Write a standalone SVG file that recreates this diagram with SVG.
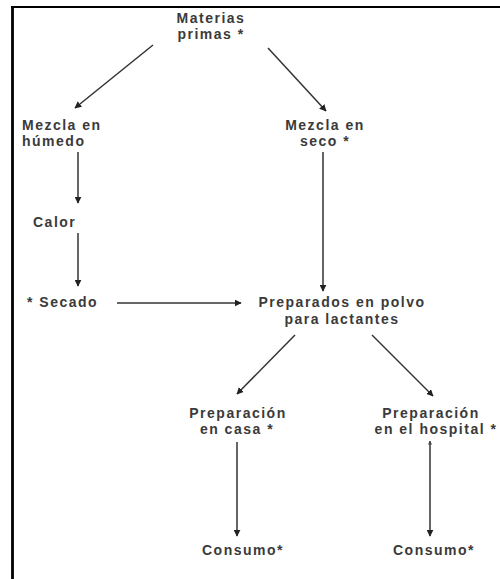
<svg xmlns="http://www.w3.org/2000/svg" width="500" height="579" viewBox="0 0 500 579">
<defs>
<marker id="ah" viewBox="0 0 10 10" refX="9" refY="5" markerWidth="7" markerHeight="7" markerUnits="userSpaceOnUse" orient="auto">
<path d="M0,0 L10,5 L0,10 z" fill="#222"/>
</marker>
<marker id="ahs" viewBox="0 0 10 10" refX="9" refY="5" markerWidth="4" markerHeight="4" markerUnits="userSpaceOnUse" orient="auto-start-reverse">
<path d="M0,0 L10,5 L0,10 z" fill="#444"/>
</marker>
<style>
text{font-family:"Liberation Sans",Arial,sans-serif;font-weight:bold;font-size:14px;fill:#3a3a3a;letter-spacing:1.5px}
.m{text-anchor:middle}
.c line{stroke:#333;stroke-width:1.5;marker-end:url(#ah)}
</style>
</defs>
<rect width="500" height="579" fill="#fff"/>
<g id="frame">
<line x1="11" y1="7" x2="500" y2="7" stroke="#000" stroke-width="1.8"/>
<line x1="12.5" y1="6" x2="12.5" y2="579" stroke="#000" stroke-width="2.8"/>
</g>
<g class="c" id="connectors">
<line x1="153" y1="45" x2="75" y2="108"/>
<line x1="268" y1="48" x2="326" y2="111"/>
<line x1="78" y1="152" x2="78" y2="203"/>
<line x1="78" y1="233" x2="78" y2="286"/>
<line x1="117" y1="303" x2="241" y2="303"/>
<line x1="323" y1="152" x2="323" y2="291"/>
<line x1="295" y1="335" x2="237" y2="394"/>
<line x1="372" y1="335" x2="433" y2="396"/>
<line x1="237" y1="442" x2="237" y2="536"/>
<line x1="430" y1="441" x2="430" y2="536" style="marker-start:url(#ahs)"/>
</g>
<g id="materias"><text class="m" x="211" y="23">Materias</text><text class="m" x="211" y="39">primas *</text></g>
<g id="humedo"><text x="22" y="130">Mezcla en</text><text x="22" y="146">húmedo</text></g>
<g id="seco"><text class="m" x="325" y="130">Mezcla en</text><text class="m" x="325" y="146">seco *</text></g>
<g id="calor"><text x="33" y="227">Calor</text></g>
<g id="secado"><text x="27" y="307">* Secado</text></g>
<g id="preparados"><text class="m" x="342" y="307">Preparados en polvo</text><text class="m" x="342" y="324">para lactantes</text></g>
<g id="casa"><text class="m" x="238" y="418">Preparación</text><text class="m" x="237" y="434">en casa *</text></g>
<g id="hospital"><text class="m" x="431" y="418">Preparación</text><text class="m" x="436" y="434">en el hospital *</text></g>
<g id="consumo1"><text class="m" x="243" y="555">Consumo*</text></g>
<g id="consumo2"><text class="m" x="434" y="555">Consumo*</text></g>
</svg>
